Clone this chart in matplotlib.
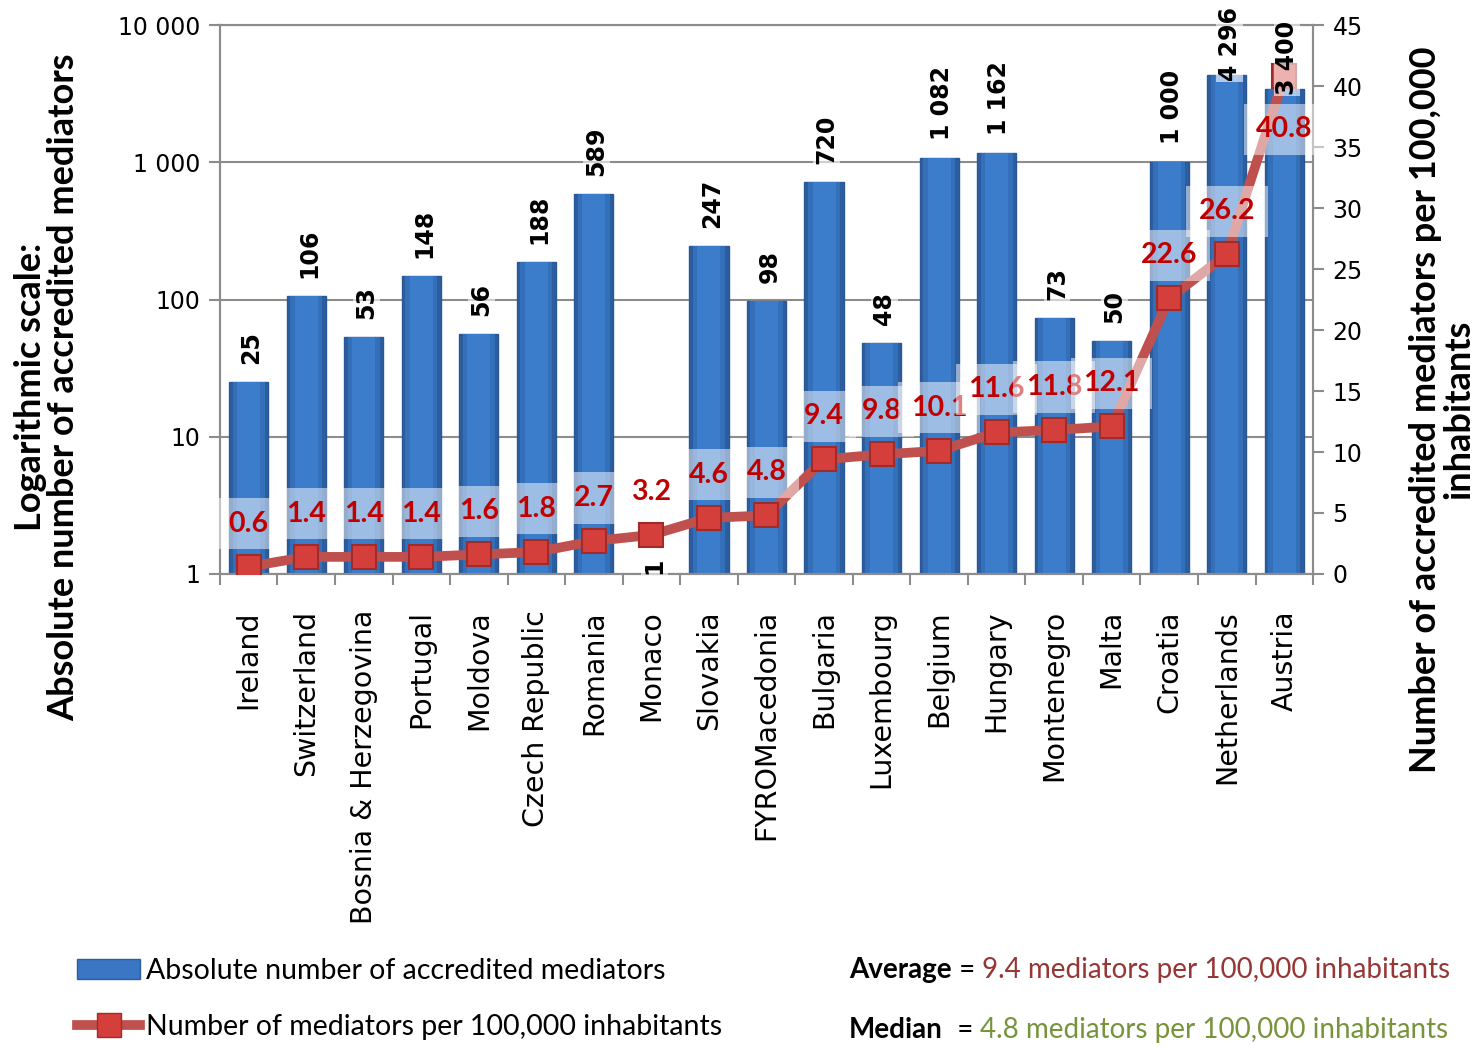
import numpy as np
import matplotlib.pyplot as plt
from matplotlib.patches import Patch
from matplotlib.lines import Line2D
from matplotlib.ticker import FixedLocator, NullLocator

## DATOS
countries = ["Ireland", "Switzerland", "Bosnia & Herzegovina", "Portugal", "Moldova",
             "Czech Republic", "Romania", "Monaco", "Slovakia", "FYROMacedonia",
             "Bulgaria", "Luxembourg", "Belgium", "Hungary", "Montenegro", "Malta",
             "Croatia", "Netherlands", "Austria"]
mediators = [25, 106, 53, 148, 56, 188, 589, 1, 247, 98, 720, 48, 1082, 1162, 73, 50, 1000, 4296, 3400]
per_100k = [0.6, 1.4, 1.4, 1.4, 1.6, 1.8, 2.7, 3.2, 4.6, 4.8, 9.4, 9.8, 10.1, 11.6, 11.8, 12.1, 22.6, 26.2, 40.8]
left_ticks = [1, 10, 100, 1000, 10000]
left_ticklabels = ["1", "10", "100", "1 000", "10 000"]
right_ticks = [0, 5, 10, 15, 20, 25, 30, 35, 40, 45]
average_txt = "9.4 mediators per 100,000 inhabitants"
median_txt = "4.8 mediators per 100,000 inhabitants"

bar_color = "#3A76C4"
line_color = "#C0504D"
grid_color = "#8C8C8C"
calibri = ["Lato", "DejaVu Sans"]

fig = plt.figure(figsize=(14.82, 10.47), dpi=100)
ax = fig.add_axes([0.1484, 0.4518, 0.7376, 0.5242])
x = np.arange(len(countries))

## BARRAS (escala logarítmica) - capas para simular el degradado
ax.set_yscale("log")
ax.bar(x, mediators, width=0.68, color="#2C5E9F", edgecolor="#2A5894", linewidth=1, zorder=2)
ax.bar(x, mediators, width=0.56, color="#3470BA", linewidth=0, zorder=2)
ax.bar(x, mediators, width=0.40, color="#3B7CCB", linewidth=0, zorder=2)
ax.set_ylim(1, 10000)
ax.set_xlim(-0.5, len(countries) - 0.5)
ax.yaxis.set_major_locator(FixedLocator(left_ticks))
ax.yaxis.set_minor_locator(NullLocator())
ax.set_yticklabels(left_ticklabels, fontsize=17)
ax.grid(axis="y", color=grid_color, lw=1.5, zorder=0)
ax.set_axisbelow(True)

ax.set_xticks(x)
ax.set_xticklabels(countries, rotation=90, fontsize=20.5)
ax.set_xticks(np.arange(len(countries) + 1) - 0.5, minor=True)
ax.tick_params(axis="x", which="major", length=0, pad=26)
ax.tick_params(axis="x", which="minor", length=8, color=grid_color, direction="out", width=1.5)
ax.tick_params(axis="y", length=8, color=grid_color, width=1.5, pad=6)
for s in ax.spines.values():
    s.set_color(grid_color)
    s.set_linewidth(1.5)

ax.set_ylabel("Logarithmic scale:\nAbsolute number of accredited mediators",
              fontsize=26, fontweight="bold", family=calibri, linespacing=1.0)
ax.yaxis.set_label_coords(-0.128, 0.34)

## LÍNEA (eje derecho)
ax2 = ax.twinx()
ax2.plot(x, per_100k, color=line_color, lw=7, marker="s", ms=17,
         mfc="#D43F3C", mec="#A12B29", mew=1.5, zorder=4)
ax2.set_ylim(0, 45)
ax2.set_yticks(right_ticks)
ax2.set_yticklabels([str(t) for t in right_ticks], fontsize=17)
ax2.tick_params(axis="y", length=8, color=grid_color, width=1.5, pad=6)
for s in ax2.spines.values():
    s.set_color(grid_color)
    s.set_linewidth(1.5)
for xi, v in zip(x, per_100k):
    dy = -38 if v > 40 else 31
    ax2.annotate(f"{v}", (xi, v), xytext=(0, dy), textcoords="offset points",
                 ha="center", va="center", fontsize=20.5, fontweight="bold", color="#C00000",
                 family=calibri, zorder=5,
                 bbox=dict(fc=(1, 1, 1, 0.5), ec="none", pad=9))
ax2.set_ylabel("Number of accredited mediators per 100,000\ninhabitants",
               fontsize=26, fontweight="bold", family=calibri, linespacing=1.0)
ax2.yaxis.set_label_coords(1.088, 0.30)

# etiquetas de las barras, dibujadas encima de la línea
# (las más altas se bajan para que quepan, la barra nula queda pegada al eje)
for xi, v in zip(x, mediators):
    lab = f"{v:,}".replace(",", " ")
    dy = 13 if v < 3000 else -4
    if v <= 1:
        dy = 0
    ax2.annotate(lab, (xi, v), xycoords=ax.transData, xytext=(2, dy), textcoords="offset points",
                 rotation=90, ha="center", va="bottom", fontsize=17, fontweight="bold", color="black",
                 bbox=dict(fc=(1, 1, 1, 0.6), ec="none", pad=1), zorder=6, annotation_clip=False)

## LEYENDA
handles = [Patch(fc=bar_color, ec="#2D5E9E"),
           Line2D([], [], color=line_color, lw=7, marker="s", ms=17, mfc="#D43F3C", mec="#A12B29")]
fig.legend(handles, ["Absolute number of accredited mediators", "Number of mediators per 100,000 inhabitants"],
           loc="lower left", bbox_to_anchor=(0.035, -0.018), frameon=False,
           prop=dict(family=calibri, size=20.5), handlelength=2.2, handletextpad=0.2, labelspacing=1.05)

## TEXTO promedio / mediana
t1 = fig.text(0.573, 0.066, "Average", fontsize=20, fontweight="bold", family=calibri, va="baseline")
a = ax.annotate(" = ", xy=(1, 0), xycoords=t1, va="bottom", fontsize=20, family=calibri)
ax.annotate(average_txt, xy=(1, 0), xycoords=a, va="bottom", fontsize=20, family=calibri, color="#953735")
m1 = fig.text(0.573, 0.009, "Median", fontsize=20, fontweight="bold", family=calibri, va="baseline")
b = ax.annotate("  = ", xy=(1, 0), xycoords=m1, va="bottom", fontsize=20, family=calibri)
ax.annotate(median_txt, xy=(1, 0), xycoords=b, va="bottom", fontsize=20, family=calibri, color="#77933C")

fig.savefig("out.png", dpi=100)
